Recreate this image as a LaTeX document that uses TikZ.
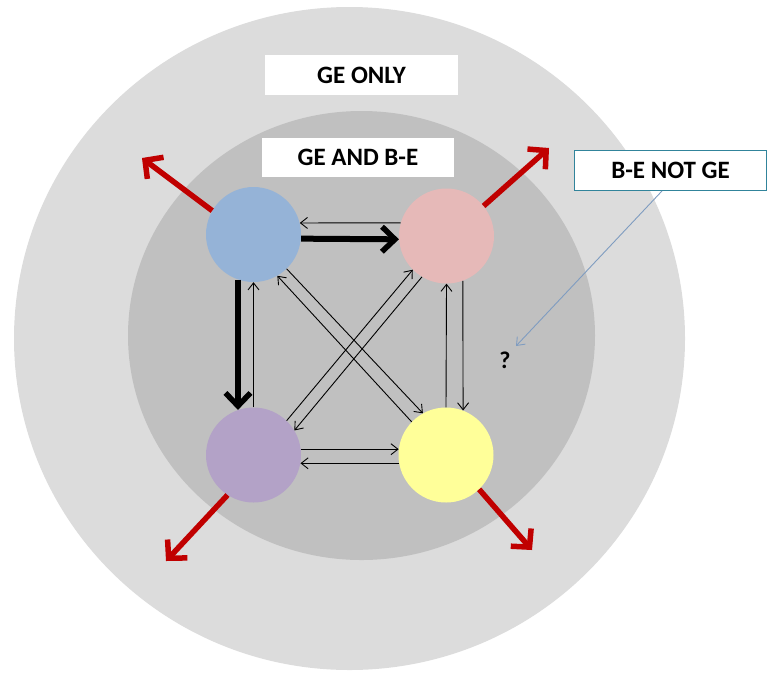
\documentclass[tikz,border=0pt]{standalone}
\usepackage{fontspec}
\setmainfont{Carlito}
\usetikzlibrary{arrows.meta}
\definecolor{outerg}{HTML}{DCDCDC}
\definecolor{innerg}{HTML}{C0C0C0}
\definecolor{cblue}{HTML}{95B3D7}
\definecolor{cpink}{HTML}{E6B9B8}
\definecolor{cpurple}{HTML}{B3A2C7}
\definecolor{cyellow}{HTML}{FFFF99}
\definecolor{cred}{HTML}{C00000}
\definecolor{cteal}{HTML}{31849B}
\definecolor{cleader}{HTML}{7F9CC0}
\tikzset{
  dot/.style={circle, inner sep=0pt, minimum size=95pt},
  labelbox/.style={fill=white, inner sep=0pt, font=\bfseries\fontsize{25}{28}\selectfont},
  thinarrow/.style={line width=0.9pt, -{Straight Barb[length=7pt,width=11pt,line width=0.9pt]}},
  thickarrow/.style={line width=6pt, -{Straight Barb[length=13pt,width=25pt,line width=5.5pt]}},
  redarrow/.style={draw=cred, line width=5.5pt, -{Straight Barb[length=13pt,width=27pt,line width=5.5pt]}},
  leader/.style={draw=cleader, line width=0.9pt, -{Straight Barb[length=7pt,width=11pt,line width=0.9pt]}}
}
\begin{document}
\begin{tikzpicture}[x=1pt,y=-1pt]
\useasboundingbox (0,0) rectangle (778,681);
% rings
\fill[outerg] (349.5,338.5) ellipse [x radius=335.5, y radius=331.5];
\fill[innerg] (361.5,335.5) ellipse [x radius=233.5, y radius=224.5];
% labels
\node[labelbox, minimum width=193pt, minimum height=40pt] (geonly) at (361.5,75) {GE ONLY};
\node[labelbox, minimum width=192pt, minimum height=39pt] (geandbe) at (358,157.5) {GE AND B-E};
\node[labelbox, draw=cteal, line width=0.9pt, minimum width=192pt, minimum height=40pt] (benotge) at (670.5,170.5) {B-E NOT GE};
\node[font=\bfseries\fontsize{24}{26}\selectfont, inner sep=0pt] (q) at (505,360) {?};
% circles
\node[dot, fill=cblue] (B) at (253.5,234.5) {};
\node[dot, fill=cpink] (P) at (446.5,236) {};
\node[dot, fill=cpurple] (U) at (253.5,455) {};
\node[dot, fill=cyellow] (Y) at (446,455) {};
% tip coordinates
\coordinate (tB) at (142,158);
\coordinate (tP) at (549,148);
\coordinate (tU) at (166,561);
\coordinate (tY) at (532,550);
\coordinate (lq) at (516,346);
% red arrows
\draw[redarrow] (B.150) -- (tB);
\draw[redarrow] (P.39) -- (tP);
\draw[redarrow] (U.237) -- (tU);
\draw[redarrow] (Y.-46) -- (tY);
% thick arrows
\draw[thickarrow] (B.-5) -- (P.184);
\draw[thickarrow] (B.251) -- (U.109);
% thin arrows
\draw[thinarrow] (P.164) -- (B.14);
\draw[thinarrow] (U.90) -- (B.270);
\draw[thinarrow] (U.7) -- (Y.173);
\draw[thinarrow] (Y.190) -- (U.-10);
\draw[thinarrow] (Y.90) -- (P.270);
\draw[thinarrow] (P.290) -- (Y.69);
\draw[thinarrow] (B.-46) -- (Y.119);
\draw[thinarrow] (Y.136) -- (B.-60);
\draw[thinarrow] (U.46) -- (P.225);
\draw[thinarrow] (P.239) -- (U.31);
% leader
\draw[leader] ([xshift=-8.5pt]benotge.south) -- (lq);
\end{tikzpicture}
\end{document}
